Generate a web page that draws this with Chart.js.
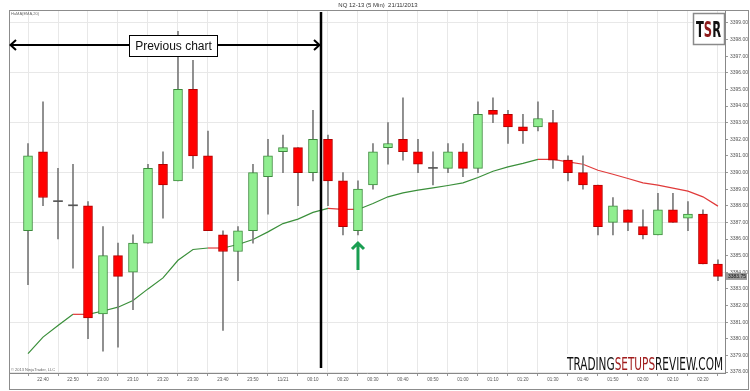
<!DOCTYPE html>
<html>
<head>
<meta charset="utf-8">
<script src="https://cdn.jsdelivr.net/npm/chart.js@4"></script>
<style>
  html, body { margin: 0; padding: 0; background: #fff; }
</style>
</head>
<body>
<canvas id="chart" width="750" height="391"></canvas>
<script>
// 5 min bars, 22:35 -> 02:25
const times = ['22:35','22:40','22:45','22:50','22:55','23:00','23:05','23:10','23:15','23:20','23:25','23:30','23:35','23:40','23:45','23:50','23:55','00:00',
  '00:05','00:10','00:15','00:20','00:25','00:30','00:35','00:40','00:45','00:50','00:55','01:00','01:05','01:10','01:15','01:20','01:25','01:30',
  '01:35','01:40','01:45','01:50','01:55','02:00','02:05','02:10','02:15','02:20','02:25'];

const openP = [3386.5, 3391.25, 3388.25, 3388.0, 3388.0, 3381.5, 3385.0, 3384.0, 3385.75, 3390.5, 3389.5, 3395.0, 3391.0, 3386.25, 3385.25, 3386.5,
  3389.75, 3391.25, 3391.5, 3390.0, 3392.0, 3389.5, 3386.5, 3389.25, 3391.5, 3392.0, 3391.25, 3390.25, 3390.25, 3391.25, 3390.25, 3393.75,
  3393.5, 3392.75, 3392.75, 3393.0, 3390.75, 3390.0, 3389.25, 3387.0, 3387.75, 3386.75, 3386.25, 3387.75, 3387.25, 3387.5, 3384.5];
const highP = [3391.75, 3394.25, 3390.25, 3390.5, 3388.25, 3386.75, 3385.75, 3386.25, 3390.5, 3391.25, 3398.5, 3396.75, 3392.5, 3386.5, 3386.75, 3390.5,
  3392.0, 3392.25, 3391.5, 3393.75, 3392.25, 3390.0, 3389.5, 3391.75, 3393.0, 3394.5, 3392.0, 3391.25, 3391.75, 3391.75, 3394.25, 3394.5,
  3393.75, 3393.5, 3394.25, 3393.75, 3391.0, 3391.0, 3389.25, 3388.5, 3387.75, 3387.75, 3388.75, 3388.75, 3388.25, 3387.75, 3384.75];
const lowP = [3383.25, 3388.0, 3386.0, 3384.25, 3380.0, 3379.25, 3379.5, 3381.75, 3385.75, 3387.25, 3389.5, 3390.25, 3386.5, 3380.5, 3383.5, 3385.75,
  3387.5, 3390.0, 3388.0, 3389.5, 3388.0, 3386.25, 3386.25, 3389.0, 3390.5, 3390.75, 3390.0, 3389.25, 3390.0, 3389.75, 3390.0, 3393.0,
  3391.75, 3391.75, 3392.5, 3390.25, 3389.5, 3389.0, 3386.25, 3386.25, 3386.5, 3386.0, 3386.25, 3387.0, 3386.5, 3384.5, 3383.5];
const closeP = [3391.0, 3388.5, 3388.25, 3388.0, 3381.25, 3385.0, 3383.75, 3385.75, 3390.25, 3389.25, 3395.0, 3391.0, 3386.5, 3385.25, 3386.5, 3390.0,
  3391.0, 3391.5, 3390.0, 3392.0, 3389.5, 3386.75, 3389.0, 3391.25, 3391.75, 3391.25, 3390.5, 3390.25, 3391.25, 3390.25, 3393.5, 3393.5,
  3392.75, 3392.5, 3393.25, 3390.75, 3390.0, 3389.25, 3386.75, 3388.0, 3387.0, 3386.25, 3387.75, 3387.0, 3387.5, 3384.5, 3383.75];
// EMA(20) as plotted
const ema = [3379.1, 3380.1, 3380.8, 3381.47, 3381.47, 3381.67, 3381.9, 3382.3, 3383.0, 3383.66, 3384.72, 3385.37, 3385.46, 3385.46, 3385.67, 3385.97,
  3386.43, 3386.93, 3387.2, 3387.6, 3387.84, 3387.78, 3387.78, 3388.14, 3388.54, 3388.78, 3388.94, 3389.08, 3389.22, 3389.38, 3389.7, 3390.08,
  3390.34, 3390.55, 3390.79, 3390.79, 3390.64, 3390.5, 3390.14, 3389.9, 3389.64, 3389.38, 3389.24, 3389.06, 3388.88, 3388.54, 3387.98];

const tickIdx = [1, 3, 5, 7, 9, 11, 13, 15, 17, 19, 21, 23, 25, 27, 29, 31, 33, 35, 37, 39, 41, 43, 45];
const tickLabels = ['22:40','22:50','23:00','23:10','23:20','23:30','23:40','23:50','11/21','00:10','00:20','00:30',
  '00:40','00:50','01:00','01:10','01:20','01:30','01:40','01:50','02:00','02:10','02:20'];
const lastPrice = 3383.75;

const dir = openP.map((o, i) => closeP[i] > o ? 1 : (closeP[i] < o ? -1 : 0));

// text / arrows drawn on top of the chart
const overlay = {
    id: 'overlay',
    afterDraw(chart) {
        const c = chart.ctx;
        const y = chart.scales.y;
        const x = chart.scales.x;
        c.save();

        // outer frame
        c.strokeStyle = '#8c8c8c';
        c.lineWidth = 1;
        c.strokeRect(9.5, 10.5, 739, 379);

        // title
        c.fillStyle = '#333';
        c.font = '6px "Liberation Sans", Arial';
        c.textAlign = 'center';
        c.textBaseline = 'middle';
        c.fillText('NQ 12-13 (5 Min)  21/11/2013', 378, 5.5);

        // tiny labels
        c.textAlign = 'left';
        c.fillStyle = '#666';
        c.font = '4px "Liberation Sans", Arial';
        c.fillText('HaMA(EMA,20)', 11, 14);
        c.fillText('\u00a9 2013 NinjaTrader, LLC', 11, 370);

        // last price marker
        const py = y.getPixelForValue(lastPrice);
        c.fillStyle = '#9a9a9a';
        c.fillRect(726, py - 3.5, 21, 7);
        c.fillStyle = '#111';
        c.font = '5px "Liberation Sans", Arial';
        c.fillText(lastPrice.toFixed(2), 728, py);

        // vertical divider
        c.strokeStyle = '#000';
        c.lineWidth = 2.5;
        c.beginPath();
        c.moveTo(321, 12);
        c.lineTo(321, 368);
        c.stroke();

        // "Previous chart" arrow
        c.lineWidth = 2;
        c.beginPath();
        c.moveTo(10, 45); c.lineTo(320, 45);
        c.moveTo(16, 40); c.lineTo(10.5, 45); c.lineTo(16, 50);
        c.moveTo(314, 40); c.lineTo(319.5, 45); c.lineTo(314, 50);
        c.stroke();
        c.fillStyle = '#fff';
        c.fillRect(129, 35, 89, 22);
        c.lineWidth = 1;
        c.strokeRect(129.5, 35.5, 88, 21);
        c.fillStyle = '#111';
        c.font = '12px "Liberation Sans", Arial';
        c.textAlign = 'center';
        c.fillText('Previous chart', 173.5, 46.5);

        // green arrow under the signal bar
        const ax = x.getPixelForValue(22);
        c.strokeStyle = '#1a9e52';
        c.lineWidth = 3;
        c.beginPath();
        c.moveTo(ax, 270); c.lineTo(ax, 244);
        c.moveTo(ax - 6, 249); c.lineTo(ax, 243); c.lineTo(ax + 6, 249);
        c.stroke();

        // TSR logo
        c.fillStyle = '#fff';
        c.fillRect(693, 13, 32, 32);
        c.strokeStyle = '#8a8a8a';
        c.lineWidth = 1.5;
        c.strokeRect(693.5, 13.5, 31, 31);
        drawParts(c, [['T', '#111'], ['S', '#8e1b1b'], ['R', '#111']], 'bold 21px "Liberation Sans Narrow", "DejaVu Sans Condensed", Arial', 696, 37, 25);

        // site name
        c.fillStyle = '#fff';
        c.fillRect(563, 354, 161, 18);
        drawParts(c, [['TRADING', '#111'], ['SETUPS', '#a11d1d'], ['REVIEW.COM', '#111']], '18px "Liberation Sans Narrow", "DejaVu Sans Condensed", Arial', 567, 370, 156);

        c.restore();
    }
};

// draw coloured pieces of text squeezed to a given width
function drawParts(c, parts, font, x0, base, width) {
    c.save();
    c.font = font;
    c.textAlign = 'left';
    c.textBaseline = 'alphabetic';
    let total = 0;
    parts.forEach(p => { total += c.measureText(p[0]).width; });
    c.translate(x0, base);
    c.scale(width / total, 1);
    let cx = 0;
    parts.forEach(p => {
        c.fillStyle = p[1];
        c.fillText(p[0], cx, 0);
        cx += c.measureText(p[0]).width;
    });
    c.restore();
}

new Chart(document.getElementById('chart'), {
    type: 'bar',
    data: {
        datasets: [{
            type: 'line',
            data: ema.map((v, i) => ({ x: i, y: v })),
            borderColor: '#3a8f3a',
            borderWidth: 1.2,
            pointRadius: 0,
            tension: 0,
            order: 3,
            segment: {
                borderColor: ctx => ctx.p1.parsed.y > ctx.p0.parsed.y ? '#3a8f3a' : '#e03a3a',
            },
        }, {
            data: lowP.map((v, i) => ({ x: i, y: [v, highP[i]] })),
            backgroundColor: '#7a7a7a',
            barThickness: 1,
            grouped: false,
            order: 2,
        }, {
            data: openP.map((o, i) => ({ x: i, y: [o, closeP[i]] })),
            backgroundColor: dir.map(d => d > 0 ? '#90ee90' : (d < 0 ? '#ff0000' : '#555')),
            borderColor: dir.map(d => d > 0 ? '#3d8b3d' : (d < 0 ? '#b30000' : '#555')),
            borderWidth: dir.map(d => d ? 1 : 0),
            borderSkipped: false,
            barThickness: 9,
            minBarLength: 1,
            grouped: false,
            order: 1,
        }],
    },
    options: {
        responsive: false,
        animation: false,
        devicePixelRatio: 1,
        layout: { padding: { left: 9, top: 10, right: 2, bottom: 2 } },
        plugins: {
            legend: { display: false },
            tooltip: { enabled: false },
            title: { display: false },
        },
        scales: {
            x: {
                type: 'linear',
                min: -1.267,
                max: 46.47,
                offset: false,
                afterBuildTicks: s => { s.ticks = tickIdx.map(v => ({ value: v })); },
                afterFit: s => { s.height = 16; },
                grid: { color: '#e8e8e8', tickColor: '#999', tickLength: 3 },
                border: { color: '#888' },
                ticks: {
                    autoSkip: false,
                    maxRotation: 0,
                    padding: 1,
                    color: '#555',
                    font: { size: 4.5, family: '"Liberation Sans", Arial' },
                    callback: (v, i) => tickLabels[i],
                },
            },
            y: {
                position: 'right',
                min: 3377.94,
                max: 3399.78,
                afterFit: s => { s.width = 23; },
                grid: {
                    color: c => (c.tick && Math.round(c.tick.value) % 3 === 0) ? '#e8e8e8' : 'rgba(0,0,0,0)',
                    tickColor: '#999',
                    tickLength: 3,
                },
                border: { color: '#888' },
                ticks: {
                    stepSize: 1,
                    includeBounds: false,
                    padding: 2,
                    color: '#555',
                    font: { size: 5, family: '"Liberation Sans", Arial' },
                    callback: v => v.toFixed(2),
                },
            },
        },
    },
    plugins: [overlay],
});
</script>
</body>
</html>
